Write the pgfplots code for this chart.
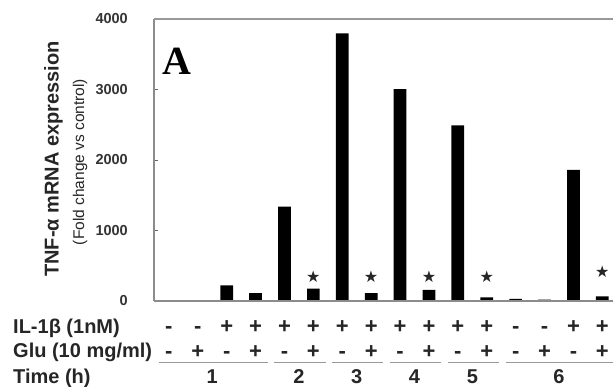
\documentclass[border=0pt]{standalone}
\usepackage{fontspec}
\setmainfont{Liberation Sans}
\newfontfamily\serifA{Liberation Serif}
\newfontfamily\symf{DejaVu Sans}
\usepackage{pgfplots}
\pgfplotsset{compat=1.18}
\begin{document}
\begin{tikzpicture}
\path[use as bounding box] (-154pt,-86pt) rectangle (459pt,301pt);
\begin{axis}[
  at={(0pt,0pt)}, anchor=south west,
  scale only axis, width=459pt, height=282pt,
  xmin=0.484, xmax=16.37, ymin=0, ymax=4000,
  axis line style={draw=none},
  clip=false,
  ytick={0,1000,2000,3000,4000},
  ytick pos=left,
  tick align=inside,
  major tick length=4pt,
  y tick style={draw=black!60, line width=0.9pt},
  xtick=\empty,
  /pgf/number format/assume math mode=true,
  scaled y ticks=false,
  y tick label style={/pgf/number format/1000 sep={}, font=\fontsize{14.5}{15}\selectfont\bfseries, text=black!80, inner sep=0pt, xshift=-26pt},
]
\addplot[ybar, bar width=12.7pt, bar shift=0pt, fill=black, draw=none] coordinates {
  (1,0) (2,0) (3,223) (4,110) (5,1338) (6,175) (7,3796) (8,110)
  (9,3004) (10,157) (11,2491) (12,50) (13,30) (14,18) (15,1860) (16,65)
};
\addplot[only marks, mark=none, nodes near coords={\symf\fontsize{16}{16}\selectfont ★},
  every node near coord/.style={anchor=center, inner sep=0pt, text=black!85}]
  coordinates {(6,350) (8,350) (10,350) (12,350) (16,415)};
\draw[black!45, line width=1.3pt] (rel axis cs:0,0) -- (rel axis cs:1,0);
\draw[black!45, line width=1.1pt] (rel axis cs:0,0) -- (rel axis cs:0,1);
\draw[black!40, line width=1.1pt] (rel axis cs:0,1) -- (rel axis cs:1,1);
\end{axis}
% panel letter
\node[font=\serifA\fontsize{40}{40}\selectfont\bfseries] at (23pt,240pt) {A};
% y labels
\node[rotate=90, font=\fontsize{20}{20}\selectfont\bfseries, text=black!85] at (-100.5pt,142pt) {TNF-α mRNA expression};
\node[rotate=90, font=\fontsize{15.5}{15.5}\selectfont, text=black!85] at (-74pt,139pt) {(Fold change vs control)};
% row labels
\begin{scope}[every node/.style={anchor=base west, inner sep=0pt, font=\fontsize{20}{20}\selectfont\bfseries, text=black!85}]
\node at (-141pt,-32.5pt) {IL-1β (1nM)};
\node at (-141pt,-57pt) {Glu (10 mg/ml)};
\node at (-141pt,-82.5pt) {Time (h)};
\end{scope}
% sign rows
\foreach \k/\a/\b in {1/-/-,2/-/+,3/+/-,4/+/+,5/+/-,6/+/+,7/+/-,8/+/+,9/+/-,10/+/+,11/+/-,12/+/+,13/-/-,14/-/+,15/+/-,16/+/+}{
  \node[anchor=base, inner sep=0pt, font=\fontsize{22}{22}\selectfont\bfseries, text=black!85] at ({(14.9+(\k-1)*28.9)*1pt},-33pt) {\a};
  \node[anchor=base, inner sep=0pt, font=\fontsize{22}{22}\selectfont\bfseries, text=black!85] at ({(14.9+(\k-1)*28.9)*1pt},-58pt) {\b};
}
% group underlines and time labels
\foreach \f/\l/\t in {1/4/1,5/6/2,7/8/3,9/10/4,11/12/5,13/16/6}{
  \draw[black!40, line width=1pt] ({(14.9+(\f-1.35)*28.9)*1pt},-62pt) -- ({(14.9+(\l-0.58)*28.9)*1pt},-62pt);
  \node[anchor=base, inner sep=0pt, font=\fontsize{20}{20}\selectfont\bfseries, text=black!85] at ({(14.9+((\f+\l)/2-1)*28.9)*1pt},-83pt) {\t};
}
\end{tikzpicture}
\end{document}
